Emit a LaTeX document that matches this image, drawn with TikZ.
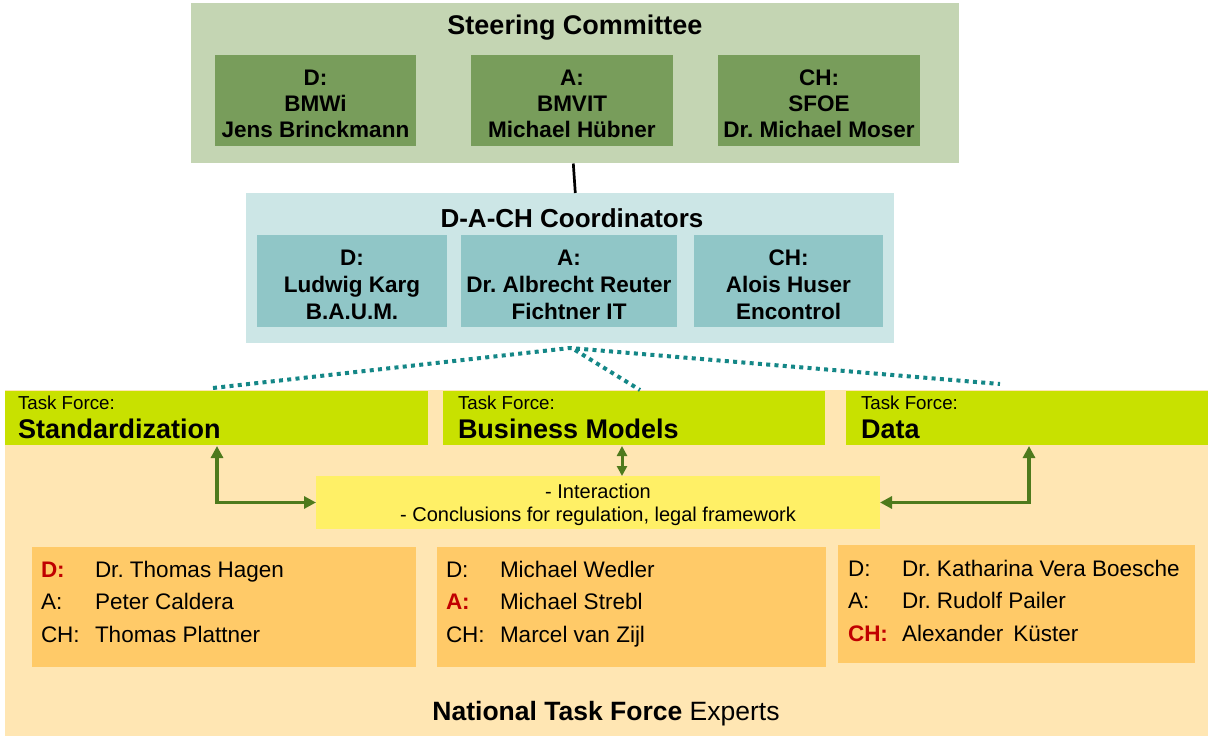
\documentclass[tikz,border=0pt]{standalone}
\usepackage{fontspec}
\setmainfont{Liberation Sans}
\usetikzlibrary{arrows.meta}
\definecolor{steerout}{HTML}{C4D5B3}
\definecolor{steerin}{HTML}{789D5B}
\definecolor{coordout}{HTML}{CCE6E6}
\definecolor{coordin}{HTML}{90C6C7}
\definecolor{peach}{HTML}{FFE6B3}
\definecolor{lime}{HTML}{C8E100}
\definecolor{yell}{HTML}{FFF066}
\definecolor{orangebox}{HTML}{FFCA68}
\definecolor{redlab}{HTML}{C00000}
\definecolor{arrgreen}{HTML}{4E7A1C}
\definecolor{teal}{HTML}{148787}
\frenchspacing
\begin{document}
\frenchspacing
\begin{tikzpicture}[x=1pt,y=-1pt,
  box/.style={draw=none, inner sep=0pt, outer sep=0pt, anchor=north west},
  txt/.style={inner sep=0pt, outer sep=0pt, text=black},
  title/.style={txt, anchor=base, font=\fontsize{27}{32}\selectfont\bfseries},
  member/.style={txt, align=center, font=\fontsize{22.5}{26}\selectfont\bfseries},
  cmember/.style={txt, align=center, font=\fontsize{22.5}{27}\selectfont\bfseries},
  tfsmall/.style={txt, anchor=base west, font=\fontsize{18.75}{22}\selectfont},
  tfbig/.style={txt, anchor=base west, font=\fontsize{27}{32}\selectfont\bfseries},
  lab/.style={txt, anchor=base west, font=\fontsize{22.5}{26}\selectfont},
  redl/.style={txt, anchor=base west, text=redlab, font=\fontsize{22.5}{26}\selectfont\bfseries},
  dotline/.style={teal, line width=4pt, dash pattern=on 4pt off 4.3pt},
  garrow/.style={arrgreen, line width=3.5pt, {Triangle[width=12pt,length=12pt]}-{Triangle[width=12pt,length=12pt]}},
  garrowthin/.style={arrgreen, line width=3pt, {Triangle[width=10pt,length=10pt]}-{Triangle[width=10pt,length=10pt]}}
]
\useasboundingbox (0,0) rectangle (1208,738);
\fill[white] (0,0) rectangle (1208,738);

% Steering committee
\node[box, fill=steerout, minimum width=768pt, minimum height=160pt] (steer) at (191,3) {};
\node[box, fill=steerin, minimum width=201pt, minimum height=91pt] (sD) at (215,55) {};
\node[box, fill=steerin, minimum width=202pt, minimum height=91pt] (sA) at (471,55) {};
\node[box, fill=steerin, minimum width=202pt, minimum height=91pt] (sC) at (718,55) {};
\node[title] (steerT) at (575,35) {Steering Committee};
\node[member] (sDt) at (315.5,104) {D:\\BMWi\\Jens Brinckmann};
\node[member] (sAt) at (572,104) {A:\\BMVIT\\Michael Hübner};
\node[member] (sCt) at (819,104) {CH:\\SFOE\\Dr. Michael Moser};

% Coordinators
\node[box, fill=coordout, minimum width=648pt, minimum height=150pt] (coord) at (246,193) {};
\node[box, fill=coordin, minimum width=190pt, minimum height=92pt] (cD) at (257,235) {};
\node[box, fill=coordin, minimum width=216pt, minimum height=92pt] (cA) at (461,235) {};
\node[box, fill=coordin, minimum width=189pt, minimum height=92pt] (cC) at (694,235) {};
\node[title, font=\fontsize{26}{30}\selectfont\bfseries] (coordT) at (572,228) {D-A-CH Coordinators};
\node[cmember] (cDt) at (352,285) {D:\\Ludwig Karg\\B.A.U.M.};
\node[cmember] (cAt) at (569,285) {A:\\Dr. Albrecht Reuter\\Fichtner IT};
\node[cmember] (cCt) at (788.5,285) {CH:\\Alois Huser\\Encontrol};

% link steering - coordinators
\coordinate (lt) at (573.3,163.5);
\coordinate (lb) at (575.3,193);
\draw[black, line width=2.7pt] (lt) -- (lb);

% National task force region
\node[box, fill=peach, minimum width=1203pt, minimum height=346pt] (nat) at (5,390) {};
\node[box, fill=lime, minimum width=423pt, minimum height=54pt] (tfS) at (5,391) {};
\node[box, fill=lime, minimum width=382pt, minimum height=54pt] (tfB) at (443,391) {};
\node[box, fill=lime, minimum width=362pt, minimum height=54pt] (tfD) at (846,391) {};
\node[tfsmall] (tfSa) at (18,409.5) {Task Force:};
\node[tfsmall] (tfBa) at (458,409.5) {Task Force:};
\node[tfsmall] (tfDa) at (861,409.5) {Task Force:};
\node[tfbig] (tfSb) at (18,438.5) {Standardization};
\node[tfbig] (tfBb) at (458,438.5) {Business Models};
\node[tfbig] (tfDb) at (861,438.5) {Data};

% dotted links
\coordinate (hub) at (570,348);
\coordinate (hubm) at (575,350);
\coordinate (dl) at (213,388);
\coordinate (dr) at (1000,384);
\coordinate (dm) at (640,390);
\draw[dotline] (dl) -- (hub) -- (dr);
\draw[dotline] (hubm) -- (dm);

% interaction box
\node[box, fill=yell, minimum width=564pt, minimum height=53pt] (inter) at (316,476) {};
\node[txt, align=center, font=\fontsize{20}{23}\selectfont] (intert) at (598,505) {- Interaction\\- Conclusions for regulation, legal framework};

% arrows
\coordinate (aS) at (217,446);
\coordinate (aD) at (1029,446);
\coordinate (aB1) at (622,446);
\coordinate (aB2) at (622,476);
\draw[garrow] (aS) |- (inter.west);
\draw[garrow] (aD) |- (inter.east);
\draw[garrowthin] (aB1) -- (aB2);

% experts boxes
\node[box, fill=orangebox, minimum width=384pt, minimum height=120pt] (eS) at (32,547) {};
\node[box, fill=orangebox, minimum width=389pt, minimum height=120pt] (eB) at (437,547) {};
\node[box, fill=orangebox, minimum width=357pt, minimum height=118pt] (eD) at (838,545) {};

\node[redl] (e1l1) at (41,577) {D:};
\node[lab] (e1n1) at (95,577) {Dr. Thomas Hagen};
\node[lab] (e1l2) at (41,609.5) {A:};
\node[lab] (e1n2) at (95,609.5) {Peter Caldera};
\node[lab] (e1l3) at (41,642) {CH:};
\node[lab] (e1n3) at (95,642) {Thomas Plattner};

\node[lab] (e2l1) at (446,577) {D:};
\node[lab] (e2n1) at (500,577) {Michael Wedler};
\node[redl] (e2l2) at (446,609.5) {A:};
\node[lab] (e2n2) at (500,609.5) {Michael Strebl};
\node[lab] (e2l3) at (446,642) {CH:};
\node[lab] (e2n3) at (500,642) {Marcel van Zijl};

\node[lab] (e3l1) at (848,576) {D:};
\node[lab] (e3n1) at (902,576) {Dr. Katharina Vera Boesche};
\node[lab] (e3l2) at (848,608.5) {A:};
\node[lab] (e3n2) at (902,608.5) {Dr. Rudolf Pailer};
\node[redl] (e3l3) at (848,641) {CH:};
\node[lab] (e3n3) at (902,641) {Alexander\, Küster};

\node[txt, anchor=base, font=\fontsize{26.5}{30}\selectfont] (natT) at (606,720) {\textbf{National Task Force} Experts};
\end{tikzpicture}
\end{document}
